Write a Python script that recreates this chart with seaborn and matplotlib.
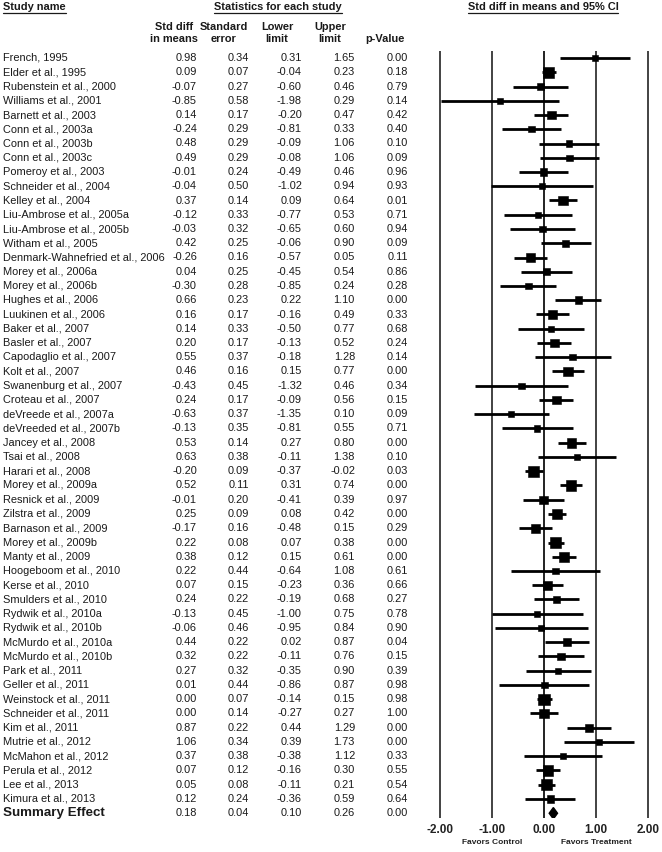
import matplotlib
matplotlib.use("Agg")
import matplotlib.pyplot as plt
import matplotlib.transforms as mtransforms
from matplotlib.lines import Line2D
import seaborn as sns
import numpy as np
import pandas as pd

studies = ["French, 1995", "Elder et al., 1995", "Rubenstein et al., 2000", "Williams et al., 2001",
           "Barnett et al., 2003", "Conn et al., 2003a", "Conn et al., 2003b", "Conn et al., 2003c",
           "Pomeroy et al., 2003", "Schneider et al., 2004", "Kelley et al., 2004",
           "Liu-Ambrose et al., 2005a", "Liu-Ambrose et al., 2005b", "Witham et al., 2005",
           "Denmark-Wahnefried et al., 2006", "Morey et al., 2006a", "Morey et al., 2006b",
           "Hughes et al., 2006", "Luukinen et al., 2006", "Baker et al., 2007", "Basler et al., 2007",
           "Capodaglio et al., 2007", "Kolt et al., 2007", "Swanenburg et al., 2007",
           "Croteau et al., 2007", "deVreede et al., 2007a", "deVreeded et al., 2007b",
           "Jancey et al., 2008", "Tsai et al., 2008", "Harari et al., 2008", "Morey et al., 2009a",
           "Resnick et al., 2009", "Zilstra et al., 2009", "Barnason et al., 2009",
           "Morey et al., 2009b", "Manty et al., 2009", "Hoogeboom et al., 2010", "Kerse et al., 2010",
           "Smulders et al., 2010", "Rydwik et al., 2010a", "Rydwik et al., 2010b",
           "McMurdo et al., 2010a", "McMurdo et al., 2010b", "Park et al., 2011", "Geller et al., 2011",
           "Weinstock et al., 2011", "Schneider et al., 2011", "Kim et al., 2011",
           "Mutrie et al., 2012", "McMahon et al., 2012", "Perula et al., 2012", "Lee et al., 2013",
           "Kimura et al., 2013"]
smd = [0.98, 0.09, -0.07, -0.85, 0.14, -0.24, 0.48, 0.49, -0.01, -0.04, 0.37, -0.12, -0.03, 0.42,
       -0.26, 0.04, -0.30, 0.66, 0.16, 0.14, 0.20, 0.55, 0.46, -0.43, 0.24, -0.63, -0.13, 0.53, 0.63,
       -0.20, 0.52, -0.01, 0.25, -0.17, 0.22, 0.38, 0.22, 0.07, 0.24, -0.13, -0.06, 0.44, 0.32, 0.27,
       0.01, 0.00, 0.00, 0.87, 1.06, 0.37, 0.07, 0.05, 0.12]
se = [0.34, 0.07, 0.27, 0.58, 0.17, 0.29, 0.29, 0.29, 0.24, 0.50, 0.14, 0.33, 0.32, 0.25, 0.16, 0.25,
      0.28, 0.23, 0.17, 0.33, 0.17, 0.37, 0.16, 0.45, 0.17, 0.37, 0.35, 0.14, 0.38, 0.09, 0.11, 0.20,
      0.09, 0.16, 0.08, 0.12, 0.44, 0.15, 0.22, 0.45, 0.46, 0.22, 0.22, 0.32, 0.44, 0.07, 0.14, 0.22,
      0.34, 0.38, 0.12, 0.08, 0.24]
lower = [0.31, -0.04, -0.60, -1.98, -0.20, -0.81, -0.09, -0.08, -0.49, -1.02, 0.09, -0.77, -0.65,
         -0.06, -0.57, -0.45, -0.85, 0.22, -0.16, -0.50, -0.13, -0.18, 0.15, -1.32, -0.09, -1.35,
         -0.81, 0.27, -0.11, -0.37, 0.31, -0.41, 0.08, -0.48, 0.07, 0.15, -0.64, -0.23, -0.19, -1.00,
         -0.95, 0.02, -0.11, -0.35, -0.86, -0.14, -0.27, 0.44, 0.39, -0.38, -0.16, -0.11, -0.36]
upper = [1.65, 0.23, 0.46, 0.29, 0.47, 0.33, 1.06, 1.06, 0.46, 0.94, 0.64, 0.53, 0.60, 0.90, 0.05,
         0.54, 0.24, 1.10, 0.49, 0.77, 0.52, 1.28, 0.77, 0.46, 0.56, 0.10, 0.55, 0.80, 1.38, -0.02,
         0.74, 0.39, 0.42, 0.15, 0.38, 0.61, 1.08, 0.36, 0.68, 0.75, 0.84, 0.87, 0.76, 0.90, 0.87,
         0.15, 0.27, 1.29, 1.73, 1.12, 0.30, 0.21, 0.59]
pval = [0.00, 0.18, 0.79, 0.14, 0.42, 0.40, 0.10, 0.09, 0.96, 0.93, 0.01, 0.71, 0.94, 0.09, 0.11,
        0.86, 0.28, 0.00, 0.33, 0.68, 0.24, 0.14, 0.00, 0.34, 0.15, 0.09, 0.71, 0.00, 0.10, 0.03,
        0.00, 0.97, 0.00, 0.29, 0.00, 0.00, 0.61, 0.66, 0.27, 0.78, 0.90, 0.04, 0.15, 0.39, 0.98,
        0.98, 1.00, 0.00, 0.00, 0.33, 0.55, 0.54, 0.64]
summary_name = "Summary Effect"
summary = [0.18, 0.04, 0.10, 0.26, 0.00]  # smd, se, lower, upper, p
xticks = [-2, -1, 0, 1, 2]
xtick_labels = ["-2.00", "-1.00", "0.00", "1.00", "2.00"]

df = pd.DataFrame({"study": studies, "smd": smd, "se": se, "lower": lower, "upper": upper, "p": pval})
df["row"] = np.arange(len(df))
tau2 = 0.032
df["w"] = 1.0 / (df["se"] ** 2 + tau2)

sns.set_theme(style="white")
plt.rcParams["font.family"] = ["Liberation Sans", "DejaVu Sans"]

W, H = 662, 852
fig = plt.figure(figsize=(W / 100, H / 100), dpi=100)

px_per_unit = 52.0
x_m2 = 440.0
ax_l, ax_r = 432.0, 657.0
ax_top, ax_bot = 51.0, 818.0
row0_y = 58.0
row_h = 14.25
ylim_top = -(row0_y - ax_top) / row_h
ylim_bot = ylim_top + (ax_bot - ax_top) / row_h

ax = fig.add_axes([ax_l / W, (H - ax_bot) / H, (ax_r - ax_l) / W, (ax_bot - ax_top) / H])
ax.set_xlim(-2 - (x_m2 - ax_l) / px_per_unit, -2 + (ax_r - x_m2) / px_per_unit)
ax.set_ylim(ylim_bot, ylim_top)
for s in ax.spines.values():
    s.set_visible(False)
ax.set_facecolor("none")

for xv in xticks:
    ax.axvline(xv, color="#222222", lw=1.4 if xv == 0 else 1.2, zorder=1)

# CI lines
ax.hlines(df["row"], df["lower"], df["upper"], color="black", lw=2.0, zorder=2)
# squares
side_px = np.maximum(6.3, 2.2 * np.sqrt(df["w"].values))
side_pt = side_px * 72 / 100
sizes = side_pt ** 2
sns.scatterplot(data=df.assign(sz=sizes), x="smd", y="row", size="sz", sizes=(sizes.min(), sizes.max()),
                marker="s", color="black", edgecolor="black", linewidth=0.4, legend=False, ax=ax, zorder=3)

# summary diamond
srow = len(df)
dh = 0.4
ax.fill([summary[2], summary[0], summary[3], summary[0]], [srow, srow - dh, srow, srow + dh],
        color="black", zorder=3)

ax.set_xticks(xticks)
ax.set_xticklabels(xtick_labels, fontsize=8.5, fontweight="bold", color="#222222")
ax.tick_params(axis="x", length=0, pad=4)
ax.set_yticks([])
ax.set_xlabel("")
ax.set_ylabel("")

fig.text(492 / W, 1 - 843 / H, "Favors Control", ha="center", va="center", fontsize=6,
         fontweight="bold", color="#222222")
fig.text(596 / W, 1 - 843 / H, "Favors Treatment", ha="center", va="center", fontsize=6,
         fontweight="bold", color="#222222")

# table
trans = mtransforms.blended_transform_factory(fig.transFigure, ax.transData)
tc = "#1a1a1a"
fs = 7.9
col_right = [197, 249, 302, 355, 408]
for i, r in df.iterrows():
    ax.text(3 / W, r["row"], r["study"], transform=trans, ha="left", va="center", fontsize=fs, color=tc)
    vals = [r["smd"], r["se"], r["lower"], r["upper"], r["p"]]
    for xr, v in zip(col_right, vals):
        ax.text(xr / W, r["row"], f"{v:.2f}", transform=trans, ha="right", va="center",
                fontsize=fs, color=tc)
ax.text(3 / W, srow, summary_name, transform=trans, ha="left", va="center", fontsize=9.6,
        fontweight="bold", color=tc)
for xr, v in zip(col_right, summary):
    ax.text(xr / W, srow, f"{v:.2f}", transform=trans, ha="right", va="center", fontsize=fs, color=tc)

# headers
hdr_fs = 7.9
t1 = fig.text(3 / W, 1 - 7 / H, "Study name", ha="left", va="center", fontsize=hdr_fs,
              fontweight="bold", color=tc)
t2 = fig.text(278 / W, 1 - 7 / H, "Statistics for each study", ha="center", va="center",
              fontsize=hdr_fs, fontweight="bold", color=tc)
t3 = fig.text(543 / W, 1 - 7 / H, "Std diff in means and 95% CI", ha="center", va="center",
              fontsize=hdr_fs, fontweight="bold", color=tc)
col_hdrs = [("Std diff", "in means", 174), ("Standard", "error", 224), ("Lower", "limit", 277),
            ("Upper", "limit", 330), ("", "p-Value", 385)]
for a, b, xc in col_hdrs:
    if a:
        fig.text(xc / W, 1 - 27 / H, a, ha="center", va="center", fontsize=hdr_fs,
                 fontweight="bold", color=tc)
    fig.text(xc / W, 1 - 39.5 / H, b, ha="center", va="center", fontsize=hdr_fs,
             fontweight="bold", color=tc)

fig.canvas.draw()
rend = fig.canvas.get_renderer()
for t in (t1, t2, t3):
    bb = t.get_window_extent(rend)
    y = (bb.y0 - 1.0) / H
    fig.add_artist(Line2D([bb.x0 / W, bb.x1 / W], [y, y], transform=fig.transFigure,
                          color=tc, lw=0.9))

fig.savefig("out.png", dpi=100, facecolor="white")
